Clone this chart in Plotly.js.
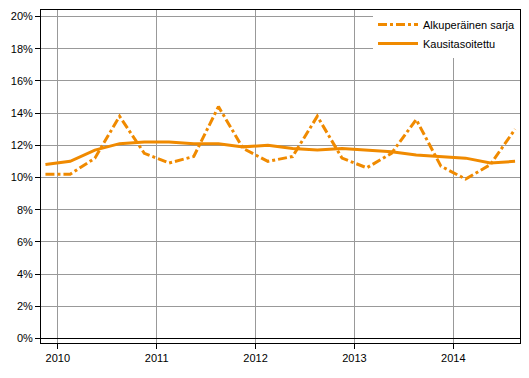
<!DOCTYPE html>
<html>
<head>
<meta charset="utf-8">
<script src="https://cdn.plot.ly/plotly-3.0.1.min.js"></script>
<style>html,body{margin:0;padding:0;background:#fff;}#chart{width:529px;height:378px;}</style>
</head>
<body>
<div id="chart"></div>
<script>
// Quarterly observations, index 0..19 (first point is the quarter before the 2010 tick)
const quarterIndex = [0,1,2,3,4,5,6,7,8,9,10,11,12,13,14,15,16,17,18,19];
const original = [10.2,10.2,11.2,13.8,11.5,10.9,11.3,14.4,11.8,11.0,11.3,13.8,11.2,10.6,11.5,13.6,10.7,9.9,10.8,13.0];
const seasonallyAdjusted = [10.8,11.0,11.7,12.1,12.2,12.2,12.1,12.1,11.9,12.0,11.8,11.7,11.8,11.7,11.6,11.4,11.3,11.2,10.9,11.0];
const yearTickPos = [0.5,4.5,8.5,12.5,16.5];
const yearLabels = ['2010','2011','2012','2013','2014'];
const seriesNames = ['Alkuperäinen sarja','Kausitasoitettu'];

const orange = '#F08A00';
const font = {family: 'Arial, "Liberation Sans", sans-serif', size: 11, color: '#000'};

const data = [
  {x: quarterIndex, y: original, name: seriesNames[0], type: 'scatter', mode: 'lines',
   line: {color: orange, width: 3, dash: 'dashdot'}},
  {x: quarterIndex, y: seasonallyAdjusted, name: seriesNames[1], type: 'scatter', mode: 'lines',
   line: {color: orange, width: 3}}
];

const layout = {
  width: 529, height: 378,
  margin: {l: 41, r: 9, t: 10, b: 35},
  paper_bgcolor: '#fff', plot_bgcolor: '#fff',
  font: font,
  showlegend: true,
  legend: {x: 1, xanchor: 'right', y: 1, yanchor: 'top', bgcolor: '#fff',
           font: font, itemwidth: 40, tracegroupgap: 0},
  xaxis: {range: [-0.18, 19.2], tickvals: yearTickPos, ticktext: yearLabels,
          showgrid: true, gridcolor: '#999', gridwidth: 1,
          showline: true, linecolor: '#000', linewidth: 1, mirror: true,
          ticks: 'outside', ticklen: 5, tickcolor: '#000', zeroline: false,
          tickfont: font},
  yaxis: {range: [-0.28, 20.4], dtick: 2, tick0: 0, ticksuffix: '%',
          showgrid: true, gridcolor: '#999', gridwidth: 1,
          showline: true, linecolor: '#000', linewidth: 1, mirror: true,
          ticks: 'outside', ticklen: 5, tickcolor: '#000',
          zeroline: true, zerolinecolor: '#000', zerolinewidth: 1,
          tickfont: font}
};

Plotly.newPlot('chart', data, layout, {displayModeBar: false, staticPlot: true});
</script>
</body>
</html>
